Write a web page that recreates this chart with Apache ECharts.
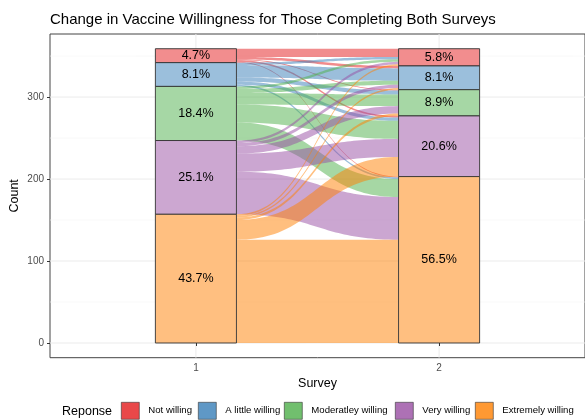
<!DOCTYPE html>
<html><head><meta charset="utf-8">
<script src="https://cdn.jsdelivr.net/npm/echarts@6/dist/echarts.min.js"></script>
<style>html,body{margin:0;padding:0;background:#fff}#c{width:585px;height:420px}</style>
</head><body><div id="c"></div>
<script>
const surveys = [1, 2];
const responses = ['Not willing', 'A little willing', 'Moderatley willing', 'Very willing', 'Extremely willing'];
// counts moving from each survey-1 response (one array per row) to survey-2 responses (same order)
const fromNotWilling        = [10, 3, 1, 2, 1];
const fromLittleWilling     = [3, 15, 5, 4, 2];
const fromModeratelyWilling = [3, 5, 14, 22, 22];
const fromVeryWilling       = [3, 4, 9, 22, 52];
const fromExtremelyWilling  = [2, 2, 3, 24, 126];
const yTicks = [0, 100, 200, 300];
const yMinor = [50, 150, 250, 350];

const FONT = 'Liberation Sans, Arial, sans-serif';
const set1 = [[228,26,28],[55,126,184],[77,175,74],[152,78,163],[255,127,0]];
const mix = (c, a) => 'rgb(' + c.map(v => Math.round(v * a + 255 * (1 - a))).join(',') + ')';
const legendColors = set1.map(c => mix(c, 0.8));
const barColors = set1.map(c => mix(c, 0.5));
const flowColors = set1.map(c => 'rgba(' + c.join(',') + ',0.5)');

const flows = [fromNotWilling, fromLittleWilling, fromModeratelyWilling, fromVeryWilling, fromExtremelyWilling];
const n = responses.length;
const s1 = flows.map(r => r.reduce((a, b) => a + b, 0));
const s2 = responses.map((_, j) => flows.reduce((a, r) => a + r[j], 0));
const total = s1.reduce((a, b) => a + b, 0);
const bottomOf = s => s.map((_, i) => s.slice(i + 1).reduce((a, b) => a + b, 0));
const b1 = bottomOf(s1), b2 = bottomOf(s2);
const halfW = 1 / 6;

const flowData = [];
for (let i = 0; i < n; i++) for (let j = 0; j < n; j++) {
  const v = flows[i][j];
  if (!v) continue;
  let lb = b1[i]; for (let k = j + 1; k < n; k++) lb += flows[i][k];
  let rb = b2[j]; for (let k = i + 1; k < n; k++) rb += flows[k][j];
  flowData.push([lb, lb + v, rb, rb + v, i]);
}

function bez(P0, P3, t) {
  const xm = (P0[0] + P3[0]) / 2, u = 1 - t;
  const x = u*u*u*P0[0] + 3*u*u*t*xm + 3*u*t*t*xm + t*t*t*P3[0];
  const y = (u*u*u + 3*u*u*t) * P0[1] + (3*u*t*t + t*t*t) * P3[1];
  return [x, y];
}
function renderFlow(params, api) {
  const x1 = surveys[0] + halfW, x2 = surveys[1] - halfW;
  const A = api.coord([x1, api.value(1)]), B = api.coord([x2, api.value(3)]);
  const C = api.coord([x2, api.value(2)]), D = api.coord([x1, api.value(0)]);
  const pts = [], N = 48;
  for (let k = 0; k <= N; k++) pts.push(bez(A, B, k / N));
  for (let k = 0; k <= N; k++) pts.push(bez(C, D, k / N));
  return { type: 'polygon', shape: { points: pts }, style: { fill: flowColors[api.value(4)] } };
}
function renderStratum(ci) {
  return function (params, api) {
    const x = api.value(0), lo = api.value(1), hi = api.value(2);
    const p1 = api.coord([x - halfW, hi]), p2 = api.coord([x + halfW, lo]);
    const c = api.coord([x, (lo + hi) / 2]);
    return { type: 'group', children: [
      { type: 'rect', shape: { x: p1[0], y: p1[1], width: p2[0] - p1[0], height: p2[1] - p1[1] },
        style: { fill: barColors[ci], stroke: '#333', lineWidth: 0.9 } },
      { type: 'text', style: { text: (100 * (hi - lo) / total).toFixed(1) + '%', x: c[0], y: c[1],
        align: 'center', verticalAlign: 'middle', fontSize: 12.5, fontFamily: FONT, fill: '#000' } }
    ] };
  };
}
function renderGrid(params, api) {
  const cs = params.coordSys;
  const kind = api.value(0), v = api.value(1);
  const major = kind < 2;
  const style = { stroke: major ? '#EBEBEB' : '#F5F5F5', lineWidth: major ? 1 : 0.6 };
  if (kind === 0 || kind === 2) {
    const y = api.coord([1, v])[1];
    return { type: 'line', shape: { x1: cs.x, y1: y, x2: cs.x + cs.width, y2: y }, style };
  }
  const x = api.coord([v, 0])[0];
  return { type: 'line', shape: { x1: x, y1: cs.y, x2: x, y2: cs.y + cs.height }, style };
}
const gridData = yTicks.map(v => [0, v]).concat(surveys.map(v => [1, v])).concat(yMinor.map(v => [2, v]));

const series = [
  { type: 'custom', name: 'grid', renderItem: renderGrid, data: gridData, silent: true, z: 0 },
  { type: 'custom', name: 'flows', renderItem: renderFlow, data: flowData, silent: true, z: 1 }
];
responses.forEach((r, i) => {
  series.push({ type: 'custom', name: r, z: 2, silent: true, renderItem: renderStratum(i),
    itemStyle: { color: legendColors[i] },
    data: [[surveys[0], b1[i], b1[i] + s1[i]], [surveys[1], b2[i], b2[i] + s2[i]]] });
});
const legendLeft = [121, 198, 284, 395, 475];
const chart = echarts.init(document.getElementById('c'));
chart.setOption({
  animation: false,
  backgroundColor: '#fff',
  textStyle: { fontFamily: FONT },
  title: { text: 'Change in Vaccine Willingness for Those Completing Both Surveys', left: 50, top: 12, padding: 0,
    textStyle: { fontSize: 15, fontWeight: 'normal', color: '#000', fontFamily: FONT } },
  grid: { left: 50, right: 0, top: 34, bottom: 62.3, show: true, borderColor: '#444', borderWidth: 1,
    backgroundColor: 'transparent', containLabel: false, outerBoundsMode: 'none' },
  xAxis: { type: 'value', min: 0.4, max: 2.6,
    axisLine: { show: false },
    axisTick: { show: true, customValues: surveys, length: 3, lineStyle: { color: '#333' } },
    axisLabel: { customValues: surveys, color: '#4D4D4D', fontSize: 10, margin: 6, fontFamily: FONT },
    splitLine: { show: false },
    name: 'Survey', nameLocation: 'middle', nameGap: 19, nameMoveOverlap: false,
    nameTextStyle: { color: '#000', fontSize: 12.5, fontFamily: FONT } },
  yAxis: { type: 'value', min: -17.95, max: 376.95,
    axisLine: { show: false },
    axisTick: { show: true, customValues: yTicks, length: 3, lineStyle: { color: '#333' } },
    axisLabel: { customValues: yTicks, color: '#4D4D4D', fontSize: 10, margin: 6, fontFamily: FONT },
    splitLine: { show: false },
    name: 'Count', nameLocation: 'middle', nameGap: 29, nameMoveOverlap: false,
    nameTextStyle: { color: '#000', fontSize: 12.5, fontFamily: FONT } },
  legend: responses.map((r, i) => ({
    data: [{ name: r, icon: 'rect', itemStyle: { color: legendColors[i], borderColor: '#333', borderWidth: 0.6 } }],
    left: legendLeft[i], top: 402, itemWidth: 18, itemHeight: 17, padding: 0, selectedMode: false,
    textStyle: { fontSize: 9.6, color: '#000', fontFamily: FONT, padding: [0, 0, 0, 4] }
  })),
  graphic: [{ type: 'text', left: 62, top: 405, style: { text: 'Reponse', fontSize: 12.5, fill: '#000', fontFamily: FONT } }],
  series
});
</script></body></html>
